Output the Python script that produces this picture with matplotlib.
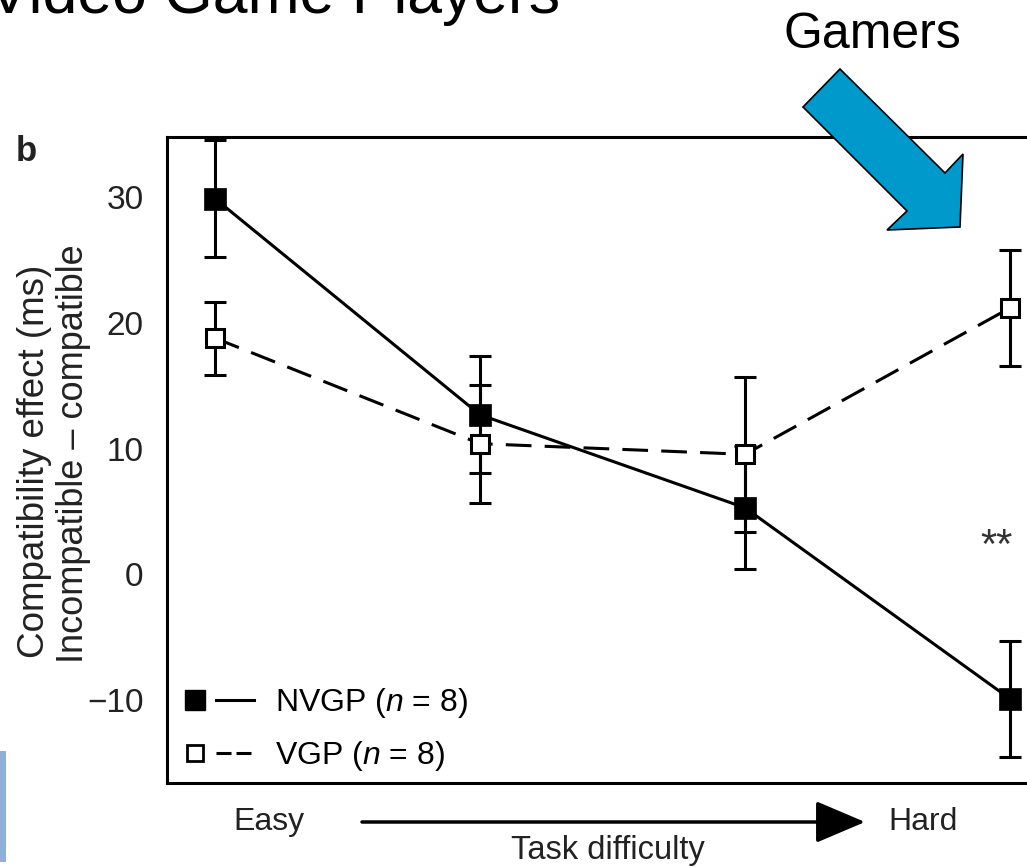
import matplotlib.pyplot as plt
from matplotlib.patches import Polygon, Rectangle
from matplotlib.lines import Line2D
from matplotlib.legend_handler import HandlerTuple

plt.rcParams['font.family'] = ['Liberation Sans', 'DejaVu Sans']
plt.rcParams['mathtext.fontset'] = 'custom'
plt.rcParams['mathtext.it'] = 'Liberation Sans:italic'
plt.rcParams['mathtext.rm'] = 'Liberation Sans'
plt.rcParams['lines.scale_dashes'] = False

# Values: compatibility effect (ms) per difficulty level
difficulty = [0, 1, 2, 3]
nvgp_mean = [29.9, 12.7, 5.3, -9.9]
nvgp_err = [4.65, 4.65, 4.9, 4.6]
vgp_mean = [18.8, 10.4, 9.55, 21.2]
vgp_err = [2.9, 4.7, 6.15, 4.6]
y_ticks = [-10, 0, 10, 20, 30]
legend_labels = ['NVGP ($n$ = 8)', 'VGP ($n$ = 8)']

W, H = 1027, 867
fig = plt.figure(figsize=(W / 100, H / 100), dpi=100)

def fx(px):
    return px / W

def fy(py):
    return 1 - py / H

# axes box runs off the right edge of the slide, like the screenshot
ax = fig.add_axes([fx(167), fy(783), (1063 - 167) / W, (783 - 137) / H])

# error bars first so the markers sit on top of them
for mean, err in [(nvgp_mean, nvgp_err), (vgp_mean, vgp_err)]:
    ax.errorbar(difficulty, mean, yerr=err, fmt='none', ecolor='black',
                elinewidth=2.2, capsize=8, capthick=2.2, zorder=2)

ax.plot(difficulty, nvgp_mean, color='black', lw=2.2, zorder=3)
ax.plot(difficulty, vgp_mean, color='black', lw=2.2, ls=(0, (18.5, 9.5)), zorder=3)
ax.plot(difficulty, nvgp_mean, ls='none', marker='s', ms=15.5, mfc='black',
        mec='black', mew=0.5, zorder=5)
ax.plot(difficulty, vgp_mean, ls='none', marker='s', ms=12.5, mfc='white',
        mec='black', mew=2.2, zorder=5)

ax.text(2.95, 2.2, '**', fontsize=30, ha='center', va='center', color='#333333')

ax.set_xlim(-0.181, 3.2)
ax.set_ylim(-16.6, 34.8)
ax.set_xticks([])
ax.set_yticks(y_ticks)
ax.tick_params(axis='y', length=0, pad=17, labelsize=24, labelcolor='#222222')
for sp in ax.spines.values():
    sp.set_linewidth(2.2)

# legend: marker then line sample, side by side
h_nvgp = (Line2D([], [], ls='none', marker='s', ms=14, mfc='black', mec='black'),
          Line2D([], [], color='black', lw=2.2))
h_vgp = (Line2D([], [], ls='none', marker='s', ms=12, mfc='white', mec='black', mew=2),
         Line2D([], [], color='black', lw=2.2, ls=(0, (10.8, 3.6))))
ax.legend([h_nvgp, h_vgp], legend_labels,
          handler_map={tuple: HandlerTuple(ndivide=None, pad=0.07)},
          loc='lower left', frameon=False, fontsize=23, handlelength=2.42,
          handletextpad=0.65, labelspacing=0.6, borderpad=0, borderaxespad=0.3)

# y axis labels
fig.text(fx(35), fy(461), 'Compatibility effect (ms)', rotation=90, fontsize=26.5,
         ha='center', va='center', color='#222222')
fig.text(fx(74), fy(454), 'Incompatible \u2013 compatible', rotation=90, fontsize=26,
         ha='center', va='center', color='#222222')
fig.text(fx(16), fy(161), 'b', fontsize=25, fontweight='bold', va='baseline', color='#222222')

# task difficulty arrow under the axes
fig.text(fx(269), fy(822), 'Easy', fontsize=23, ha='center', va='center', color='#222222')
fig.text(fx(923), fy(822), 'Hard', fontsize=23, ha='center', va='center', color='#222222')
fig.text(fx(608), fy(850), 'Task difficulty', fontsize=23.5, ha='center', va='center',
         color='#222222')
ax.annotate('', xy=(fx(865), fy(822)), xytext=(fx(362), fy(822)),
            xycoords='figure fraction', textcoords='figure fraction',
            arrowprops=dict(arrowstyle='-|>,head_length=0.4,head_width=0.17',
                            mutation_scale=77, lw=2.5, color='black',
                            shrinkA=0, shrinkB=0))

# slide title (cut off at the top) and the "Gamers" callout
fig.text(fx(-12), fy(13), 'Video Game Players', fontsize=45, va='baseline', ha='left')
fig.text(fx(872), fy(48), 'Gamers', fontsize=36, ha='center', va='baseline')

arrow_px = [(803, 107), (840, 69), (945, 173), (963, 154), (960, 227), (887, 230), (907, 211)]
fig.add_artist(Polygon([(fx(x), fy(y)) for x, y in arrow_px], closed=True,
                       transform=fig.transFigure, fc='#0099cc', ec='black', lw=1.2,
                       zorder=10))

# bit of slide decoration on the left edge
fig.add_artist(Rectangle((0, fy(862)), fx(6), (862 - 751) / H, transform=fig.transFigure,
                         fc='#8fb0d8', ec='none'))

fig.savefig('out.png', dpi=100)
